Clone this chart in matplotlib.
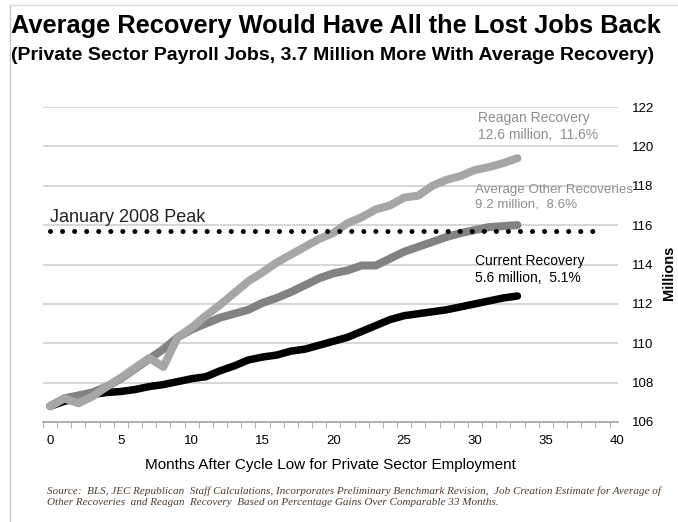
import numpy as np
import matplotlib
matplotlib.use("Agg")
import matplotlib.pyplot as plt
from matplotlib.lines import Line2D

#%% Data

months = list(range(34))

current = [106.8, 107.05, 107.2, 107.4, 107.5, 107.55, 107.65, 107.8, 107.9, 108.05,
           108.2, 108.3, 108.6, 108.85, 109.15, 109.3, 109.4, 109.6, 109.7, 109.9,
           110.1, 110.3, 110.6, 110.9, 111.2, 111.4, 111.5, 111.6, 111.7, 111.85,
           112.0, 112.15, 112.3, 112.4]

average_other = [106.8, 107.2, 107.35, 107.5, 107.8, 108.2, 108.7, 109.2, 109.7, 110.3,
                 110.7, 111.0, 111.3, 111.5, 111.7, 112.05, 112.3, 112.6, 112.95, 113.3,
                 113.55, 113.7, 113.95, 113.95, 114.3, 114.65, 114.9, 115.15, 115.4, 115.6,
                 115.75, 115.9, 115.95, 116.0]

reagan = [106.8, 107.2, 106.95, 107.3, 107.8, 108.25, 108.75, 109.25, 108.8, 110.3,
          110.8, 111.4, 111.95, 112.55, 113.15, 113.6, 114.1, 114.5, 114.9, 115.3,
          115.6, 116.1, 116.4, 116.8, 117.0, 117.4, 117.5, 118.0, 118.3, 118.5,
          118.8, 118.95, 119.15, 119.4]

peak_value = 115.7
peak_months = [0, 39]

yticks = [106, 108, 110, 112, 114, 116, 118, 120, 122]
xticks = [0, 5, 10, 15, 20, 25, 30, 35, 40]

title = "Average Recovery Would Have All the Lost Jobs Back"
subtitle = "(Private Sector Payroll Jobs, 3.7 Million More With Average Recovery)"
source = ("Source:  BLS, JEC Republican  Staff Calculations, Incorporates Preliminary Benchmark Revision,  "
          "Job Creation Estimate for Average of\n"
          "Other Recoveries  and Reagan  Recovery  Based on Percentage Gains Over Comparable 33 Months.")

#%% Figure

plt.rcParams['font.family'] = ['Liberation Sans', 'DejaVu Sans']

fig = plt.figure(figsize=(6.78, 5.22), dpi=100)
ax = fig.add_axes([43/678, 1 - 422/522, (618 - 43)/678, (422 - 107)/522])

# light frame around the picture (left and top edges)
fig.add_artist(Line2D([10/678, 10/678], [0, 1 - 5/522], transform=fig.transFigure,
                      color='#c8c8c8', lw=1))
fig.add_artist(Line2D([10/678, 1], [1 - 5/522, 1 - 5/522], transform=fig.transFigure,
                      color='#d8d8d8', lw=1))

for y in yticks[1:]:
    ax.axhline(y, color='#cfcfcf', lw=1.2, zorder=1)

ax.plot(months, current, color='black', lw=5.4, solid_capstyle='round',
        solid_joinstyle='round', zorder=3)
ax.plot(months, average_other, color='#828282', lw=5.8, solid_capstyle='round',
        solid_joinstyle='round', zorder=4)
ax.plot(months, reagan, color='#a6a6a6', lw=5.8, solid_capstyle='round',
        solid_joinstyle='round', zorder=5)
ax.plot(peak_months, [peak_value, peak_value], color='black', lw=3.6,
        linestyle=(0, (0.01, 2.4)), dash_capstyle='round', zorder=6)

ax.set_xlim(-0.5, 40.1)
ax.set_ylim(106, 122)
ax.set_xticks(xticks)
ax.set_xticks(np.arange(-0.5, 40, 1), minor=True)
ax.tick_params(axis='x', which='major', length=0, pad=9, labelsize=9.5)
ax.tick_params(axis='x', which='minor', length=4, color='#a0a0a0', direction='out')
ax.set_yticks(yticks)
ax.yaxis.tick_right()
ax.tick_params(axis='y', length=0, pad=10, labelsize=9.5)

for s in ['top', 'left', 'right']:
    ax.spines[s].set_visible(False)
ax.spines['bottom'].set_color('#a0a0a0')
ax.spines['bottom'].set_linewidth(1.2)

ax.set_xlabel("Months After Cycle Low for Private Sector Employment", fontsize=11, labelpad=8)
fig.text(669/678, 1 - 273/522, "Millions", rotation=90, fontsize=10.5,
         fontweight='bold', ha='center', va='center')

# series annotations
ax.text(30.2, 121.0, "Reagan Recovery\n12.6 million,  11.6%", color='#8e8e8e',
        fontsize=10, ha='left', va='center', linespacing=1.25)
ax.text(30.0, 117.4, "Average Other Recoveries\n9.2 million,  8.6%", color='#8e8e8e',
        fontsize=9.6, ha='left', va='center', linespacing=1.25)
ax.text(30.0, 113.75, "Current Recovery\n5.6 million,  5.1%", color='black',
        fontsize=10, ha='left', va='center', linespacing=1.25)
ax.text(0.0, 116.4, "January 2008 Peak", color='#222222', fontsize=13,
        ha='left', va='center')

fig.text(11/678, 1 - 26/522, title, fontsize=18.3, fontweight='bold', ha='left', va='center')
fig.text(11/678, 1 - 56/522, subtitle, fontsize=14, fontweight='bold', ha='left', va='center')
fig.text(47/678, 1 - 497/522, source, fontsize=8.0, style='italic', color='#4e3c2e',
         family=['Liberation Serif', 'DejaVu Serif'], ha='left', va='center', linespacing=1.3)

fig.savefig('out.png', dpi=100)
